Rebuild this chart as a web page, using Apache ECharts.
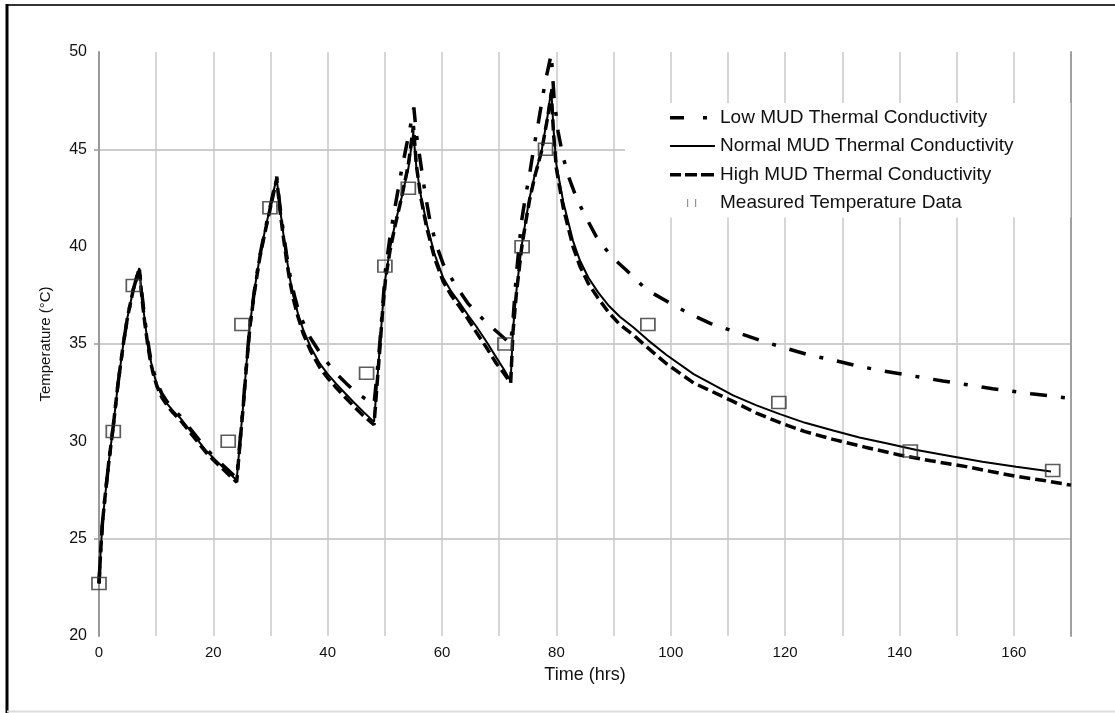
<!DOCTYPE html>
<html>
<head>
<meta charset="utf-8">
<script src="https://cdn.jsdelivr.net/npm/echarts@6/dist/echarts.min.js"></script>
<style>html,body{margin:0;padding:0;background:#fff;}#chart{width:1115px;height:713px;}</style>
</head>
<body>
<div id="chart"></div>
<script>
// ---- data ----
const seriesNames = ['Low MUD Thermal Conductivity','Normal MUD Thermal Conductivity','High MUD Thermal Conductivity','Measured Temperature Data'];

const normalTime = [0,0.3,0.6,1,1.7,2.5,3.3,4.25,5,6,7.05,
  7.5,8,8.5,9,9.5,10.1,11,12,13,14.2,16.5,18.8,20.5,22.3,24.08,
  24.6,25.2,25.8,26.4,27.2,28.1,29,29.9,30.5,31.08,
  31.6,32.2,32.8,33.4,34,34.8,35.7,37,38.6,40,41.5,43,44.5,46.3,48.1,
  48.6,49.1,49.6,50.1,50.9,51.8,52.9,54.1,54.97,
  55.5,56.3,57.3,58.7,60.2,61.6,63.1,64.5,66,67.8,69.5,70.8,72,
  72.4,73,73.9,74.6,75.3,76.3,77.4,78.5,79.1,
  79.5,80,81.2,82.9,84.1,85.6,87.3,89.2,91.1,93.5,96,99.2,104,110.9,115,119.1,123.5,128.4,133,137.7,143,148.8,154.5,160.4,166.5];
const normalTemp = [22.7,24.4,25.8,27.0,28.9,30.8,32.9,35.0,36.4,37.8,38.9,
  37.5,36.2,35.1,34.2,33.55,32.95,32.35,31.9,31.55,31.2,30.35,29.5,29.0,28.5,28.0,
  29.8,31.8,34.0,36.0,37.8,39.45,40.8,42.0,42.8,43.55,
  42.1,40.75,39.45,38.35,37.45,36.55,35.75,34.85,34.0,33.45,32.95,32.48,32.02,31.5,31.0,
  32.9,34.8,36.8,38.4,39.9,41.2,42.5,44.0,45.86,
  44.1,42.6,41.2,39.6,38.4,37.7,37.1,36.5,35.9,35.1,34.3,33.7,33.1,
  35.7,37.7,40.0,41.3,42.5,43.8,44.9,46.8,48.1,
  46.0,44.2,42.3,40.3,39.3,38.4,37.65,36.95,36.4,35.85,35.2,34.45,33.45,32.36,31.85,31.4,30.95,30.56,30.2,29.9,29.55,29.25,28.95,28.7,28.45];

const highTime = [0,0.3,0.6,1,1.7,2.5,3.3,4.25,5,6,7.05,
  7.5,8,8.5,9,9.5,10.1,11,12,13,14.2,16.5,18.8,20.5,22.3,24.08,
  24.6,25.2,25.8,26.4,27.2,28.1,29,29.9,30.5,31.08,
  31.6,32.2,32.8,33.4,34,34.8,35.7,37,38.6,40,41.5,43,44.5,46.3,48.1,
  48.6,49.1,49.6,50.1,50.9,51.8,52.9,54.1,55.0,
  55.5,56.3,57.3,58.7,60.2,61.6,63.1,64.5,66,67.8,69.5,70.8,72,
  72.4,73,73.9,74.6,75.3,76.3,77.4,78.5,79.1,
  79.5,80,81.2,82.9,84.1,85.6,87.3,89.2,91.1,93.5,96,99.2,104,110.9,115,119.6,123.5,128.4,134,140,145.5,151.7,156,160.4,165,170];
const highTemp = [22.7,24.4,25.8,27.0,28.9,30.8,32.9,35.0,36.4,37.8,38.9,
  37.4,36.1,35.0,34.1,33.45,32.85,32.25,31.8,31.45,31.1,30.25,29.4,28.9,28.4,27.9,
  29.7,31.7,33.9,35.9,37.7,39.4,40.7,41.9,42.7,43.5,
  42.0,40.6,39.3,38.2,37.3,36.4,35.55,34.65,33.8,33.25,32.75,32.28,31.82,31.3,30.85,
  32.8,34.7,36.7,38.3,39.8,41.1,42.5,44.2,46.2,
  44.2,42.5,41.0,39.4,38.2,37.5,36.9,36.3,35.6,34.8,34.0,33.5,33.0,
  35.6,37.6,39.9,41.2,42.4,43.7,44.9,46.7,47.9,
  45.8,44.0,42.0,40.0,39.0,38.1,37.35,36.6,36.0,35.45,34.8,34.0,33.0,32.05,31.45,30.9,30.5,30.1,29.7,29.3,29.0,28.7,28.45,28.2,28.0,27.75];

const lowTime = [0,0.3,0.6,1,1.7,2.5,3.3,4.25,5,6,7.05,
  7.5,8,8.5,9,9.5,10.1,11,12,13,14.2,16.5,18.8,20.5,22.3,24.08,
  24.6,25.2,25.8,26.4,27.2,28.1,29,29.9,30.5,31.08,
  31.6,32.2,32.8,33.4,34.2,35.1,36.9,39.2,41.8,43.5,45.05,46.5,48.1,
  48.6,49.1,49.6,50.1,50.8,51.45,52.9,54.4,55.07,
  55.5,56.1,57,57.9,59,60.2,62.2,64.6,67.5,70.1,72,
  72.4,73,73.9,74.6,75.3,76,76.8,78,79.1,
  79.6,80.3,81.1,82,83.5,85,87,89.6,92.2,95.7,100.1,103.3,107,111.5,115.5,119.9,124,128.7,133,137.4,142.5,147.6,152,156.3,163,170];
const lowTemp = [22.7,24.4,25.8,27.0,28.9,30.8,32.9,35.0,36.4,37.8,38.9,
  37.6,36.3,35.2,34.3,33.65,33.05,32.45,32.0,31.65,31.3,30.45,29.6,29.1,28.6,28.1,
  29.8,31.8,34.0,36.0,37.8,39.5,40.8,42.0,42.8,43.6,
  42.2,40.85,39.6,38.55,37.45,36.5,35.35,34.3,33.4,32.9,32.5,32.2,31.9,
  33.4,35.0,36.9,38.8,40.3,41.5,43.9,46.1,47.15,
  45.8,44.6,42.8,41.3,40.1,39.1,38.1,37.06,36.17,35.5,35.0,
  36.2,38.6,41.3,42.6,43.7,45.0,46.3,48.4,49.9,
  47.6,45.9,44.7,43.7,42.5,41.6,40.5,39.5,38.8,37.8,37.06,36.55,36.05,35.6,35.2,34.8,34.45,34.15,33.85,33.6,33.35,33.1,32.9,32.7,32.45,32.2];

const measuredTime = [0,2.5,6,22.6,25,29.9,46.8,50,54.1,71,74,78.1,96,118.9,141.9,166.8];
const measuredTemp = [22.7,30.5,38,30,36,42,33.5,39,43,35,40,45,36,32,29.5,28.5];

const xTickLabels = [0,20,40,60,80,100,120,140,160];
const yGridValues = [25,35,45];

// ---- build ----
const zip = (a, b) => a.map((v, i) => [v, b[i]]);
const FONT = "'Liberation Sans', Arial, sans-serif";
// legend icons: tiny corner marks fix the 45x14 box, visible parts drawn inside
const BOX = 'M0,0h0.01v0.01h-0.01z M44.99,13.99h0.01v0.01h-0.01z ';
const iconLow = 'path://' + BOX + 'M0,5.5h14v3.5h-14z M33,5.5h4v3.5h-4z';
const iconNormal = 'path://' + BOX + 'M0,6h45v2h-45z';
const iconHigh = 'path://' + BOX + 'M0,5.5h11v3.5h-11z M15,5.5h12v3.5h-12z M31,5.5h13v3.5h-13z';
const iconMeasured = 'path://' + BOX + 'M17,3h1.2v8h-1.2z M25,3h1.2v8h-1.2z';

const chart = echarts.init(document.getElementById('chart'), null, {renderer: 'canvas'});
chart.setOption({
  animation: false,
  backgroundColor: '#fff',
  textStyle: {fontFamily: FONT, color: '#111'},
  grid: {left: 99, right: 44, top: 52, bottom: 77, containLabel: false},
  xAxis: {
    type: 'value', min: 0, max: 170, interval: 10,
    name: 'Time (hrs)', nameLocation: 'middle', nameGap: 30,
    nameTextStyle: {fontSize: 18, color: '#111', fontFamily: FONT},
    axisLine: {show: false},
    axisTick: {show: false},
    axisLabel: {
      fontSize: 15, color: '#111', margin: 9, fontFamily: FONT,
      formatter: v => (xTickLabels.indexOf(v) >= 0 ? String(v) : '')
    },
    splitLine: {show: true, lineStyle: {color: '#c8c8c8', width: 1.5}}
  },
  yAxis: [{
    type: 'value', min: 20, max: 50, interval: 5,
    name: 'Temperature (\u00B0C)', nameLocation: 'middle', nameGap: 46,
    nameTextStyle: {fontSize: 15, color: '#111', fontFamily: FONT},
    axisLine: {show: true, lineStyle: {color: '#999', width: 2}},
    axisTick: {show: true, customValues: yGridValues, length: 5, inside: false, lineStyle: {color: '#999', width: 1.5}},
    axisLabel: {fontSize: 16, color: '#111', margin: 12, fontFamily: FONT},
    splitLine: {show: true, lineStyle: {color: '#bdbdbd', width: 1.5}}
  }, {
    type: 'value', min: 20, max: 50, position: 'right',
    axisLine: {show: true, lineStyle: {color: '#a0a0a0', width: 2}},
    axisTick: {show: false}, axisLabel: {show: false}, splitLine: {show: false}
  }],
  legend: {
    orient: 'vertical', left: 625, top: 103,
    padding: [5, 57, 5, 45],
    backgroundColor: '#fff',
    itemWidth: 45, itemHeight: 14, itemGap: 9.5,
    textStyle: {fontSize: 19, color: '#111', fontFamily: FONT},
    data: [
      {name: seriesNames[0], icon: iconLow, itemStyle: {color: '#000', borderWidth: 0}},
      {name: seriesNames[1], icon: iconNormal, itemStyle: {color: '#000', borderWidth: 0}},
      {name: seriesNames[2], icon: iconHigh, itemStyle: {color: '#000', borderWidth: 0}},
      {name: seriesNames[3], icon: iconMeasured, itemStyle: {color: '#777', borderWidth: 0}}
    ]
  },
  graphic: [
    {type: 'line', shape: {x1: 6, y1: 5, x2: 1115, y2: 5}, style: {stroke: '#333', lineWidth: 2}, silent: true},
    {type: 'line', shape: {x1: 7, y1: 4, x2: 7, y2: 713}, style: {stroke: '#000', lineWidth: 3}, silent: true},
    {type: 'line', shape: {x1: 7, y1: 711.5, x2: 1115, y2: 711.5}, style: {stroke: '#dcdcdc', lineWidth: 2}, silent: true}
  ],
  series: [
    {
      name: seriesNames[0], type: 'line', data: zip(lowTime, lowTemp),
      symbol: 'none', showSymbol: false, smooth: false,
      lineStyle: {color: '#000', width: 3.5, type: [17, 14, 4, 14]},
      itemStyle: {color: '#000'}, z: 3
    },
    {
      name: seriesNames[1], type: 'line', data: zip(normalTime, normalTemp),
      symbol: 'none', showSymbol: false, smooth: false,
      lineStyle: {color: '#000', width: 2},
      itemStyle: {color: '#000'}, z: 3
    },
    {
      name: seriesNames[2], type: 'line', data: zip(highTime, highTemp),
      symbol: 'none', showSymbol: false, smooth: false,
      lineStyle: {color: '#000', width: 3.5, type: [11, 5]},
      itemStyle: {color: '#000'}, z: 3
    },
    {
      name: seriesNames[3], type: 'scatter', data: zip(measuredTime, measuredTemp),
      symbol: 'rect', symbolSize: [14, 12],
      itemStyle: {color: 'rgba(255,255,255,0)', borderColor: '#333', borderWidth: 1.6},
      z: 5
    }
  ]
});
</script>
</body>
</html>
